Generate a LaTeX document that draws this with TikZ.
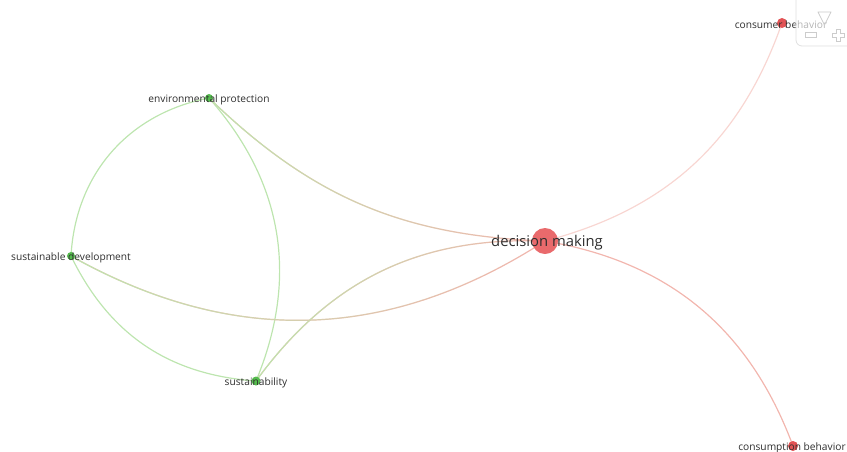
\documentclass[tikz,border=0pt]{standalone}
\usepackage{fontspec}
\setmainfont{Open Sans}
\usetikzlibrary{fadings}
\pgfdeclarelayer{bg}
\pgfsetlayers{bg,main}
\definecolor{gline}{HTML}{BDE5AF}
\definecolor{rline}{HTML}{F2B6AE}
\definecolor{rfaint}{HTML}{F8D6D2}
\definecolor{gnode}{HTML}{55BC4E}
\definecolor{rnode}{HTML}{E25355}
\definecolor{dmnode}{HTML}{E96A6C}
\definecolor{txt}{HTML}{2E2E2E}
\tikzfading[name=fadeR, left color=transparent!0, right color=transparent!100]
\tikzset{
  dot/.style={circle, fill=#1, inner sep=0pt},
  lbl/.style={text=txt, font=\fontsize{10.2}{11}\selectfont, inner sep=0pt, yshift=-1.5pt},
  biglbl/.style={text=txt, font=\fontsize{14.8}{16}\selectfont, inner sep=0pt, yshift=-2pt},
  gedge/.style={draw=gline, line width=1.2pt},
  redge/.style={draw=rline, line width=1.2pt},
  fedge/.style={draw=rfaint, line width=1.2pt},
  mixg/.style={draw=gline, line width=1.2pt, path fading=fadeR},
}
\begin{document}
\begin{tikzpicture}[x=1pt,y=-1pt]
\useasboundingbox (0,0) rectangle (847,451);
% nodes
\node[dot=dmnode, minimum size=26pt] (dm) at (545,241) {};
\node[dot=rnode, minimum size=10pt] (cb) at (782,23) {};
\node[dot=rnode, minimum size=10pt] (cs) at (793,446) {};
\node[dot=gnode, minimum size=8pt] (ep) at (209,98) {};
\node[dot=gnode, minimum size=8pt] (sd) at (71,256) {};
\node[dot=gnode, minimum size=9pt] (sy) at (256,381) {};
% edges
\begin{pgfonlayer}{bg}
\draw[fedge] (dm.center) to[bend right=28] (cb.center);
\draw[redge] (dm.center) to[bend left=30] (cs.center);
\draw[gedge] (ep.center) to[bend right=38] (sd.center);
\draw[gedge] (ep.center) to[bend left=32] (sy.center);
\draw[gedge] (sd.center) to[bend right=30] (sy.center);
\draw[redge] (ep.center) to[bend right=21] (dm.center);
\draw[mixg] (ep.center) to[bend right=21] (dm.center);
\draw[redge] (sd.center) to[bend right=31] (dm.center);
\draw[mixg] (sd.center) to[bend right=31] (dm.center);
\draw[redge] (sy.center) to[bend left=28] (dm.center);
\draw[mixg] (sy.center) to[bend left=28] (dm.center);
\end{pgfonlayer}
% labels
\node[biglbl] (dmL) at (547,241) {decision making};
\node[lbl] (cbL) at (781,23) {consumer behavior};
\node[lbl] (csL) at (792,446) {consumption behavior};
\node[lbl] (epL) at (209,98) {environmental protection};
\node[lbl] (sdL) at (71,256) {sustainable development};
\node[lbl] (syL) at (256,381) {sustainability};
% widget
\draw[draw=black!12, fill=white, fill opacity=0.65, rounded corners=6pt, line width=0.8pt]
  (796,-10) rectangle (870,46);
\draw[draw=black!20, line width=0.8pt, line join=round] (818,12) -- (831,12) -- (824.5,25) -- cycle;
\draw[draw=black!20, line width=0.8pt] (805,32) rectangle (816,37);
\draw[draw=black!20, line width=0.8pt]
  (836,29) -- (840,29) -- (840,33) -- (844,33) -- (844,37) -- (840,37) -- (840,41)
  -- (836,41) -- (836,37) -- (832,37) -- (832,33) -- (836,33) -- cycle;
\end{tikzpicture}
\end{document}
